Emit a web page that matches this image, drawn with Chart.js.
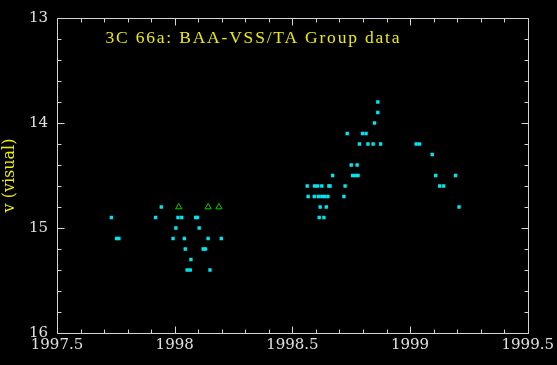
<!DOCTYPE html>
<html>
<head>
<meta charset="utf-8">
<script src="https://cdn.jsdelivr.net/npm/chart.js@4/dist/chart.umd.min.js"></script>
<style>
html,body{margin:0;padding:0;background:#000;}
canvas{display:block;}
</style>
</head>
<body>
<canvas id="c" width="557" height="365"></canvas>
<script>
// Visual estimates (cyan squares)
const visX = [1997.731,1997.753,1997.763,1997.919,1997.943,1997.993,1998.005,1998.014,1998.030,1998.041,1998.045,1998.053,1998.066,1998.069,1998.089,1998.097,1998.104,1998.121,1998.131,1998.142,1998.150,1998.198,
  1998.563,1998.594,1998.607,1998.625,1998.655,1998.660,1998.724,
  1998.567,1998.593,1998.610,1998.625,1998.637,1998.651,1998.719,
  1998.618,1998.644,
  1998.614,1998.634,
  1998.671,1998.756,1998.768,1998.779,
  1998.750,1998.775,
  1998.785,1998.821,1998.843,1998.875,
  1998.733,1998.798,1998.813,
  1998.849,1998.863,1998.863,
  1999.026,1999.040,1999.094,1999.109,1999.193,1999.126,1999.143,1999.208];
const visY = [14.9,15.1,15.1,14.9,14.8,15.1,15.0,14.9,14.9,15.1,15.2,15.4,15.4,15.3,14.9,14.9,15.0,15.2,15.2,15.1,15.4,15.1,
  14.6,14.6,14.6,14.6,14.6,14.6,14.6,
  14.7,14.7,14.7,14.7,14.7,14.7,14.7,
  14.8,14.8,
  14.9,14.9,
  14.5,14.5,14.5,14.5,
  14.4,14.4,
  14.2,14.2,14.2,14.2,
  14.1,14.1,14.1,
  14.0,13.9,13.8,
  14.2,14.2,14.3,14.5,14.5,14.6,14.6,14.8];
// Green triangles
const triX = [1998.017,1998.142,1998.188];
const triY = [14.8,14.8,14.8];
const xTickLabels = [1997.5,1998,1998.5,1999,1999.5];
const yTickLabels = [13,14,15,16];
const titleText = '3C 66a: BAA-VSS/TA Group data';
const yTitle = 'v (visual)';

const toPts = (xs, ys) => xs.map((x, i) => ({x: x, y: ys[i]}));

const bgPlugin = {
  id: 'bg',
  beforeDraw(chart) {
    const c = chart.ctx;
    c.save();
    c.fillStyle = '#000';
    c.fillRect(0, 0, chart.width, chart.height);
    c.restore();
  }
};

const framePlugin = {
  id: 'frame',
  afterDatasetsDraw(chart) {
    const c = chart.ctx, a = chart.chartArea, sx = chart.scales.x, sy = chart.scales.y;
    c.save();
    c.strokeStyle = '#d4d4d4';
    c.lineWidth = 1;
    const L = Math.round(a.left) + 0.5, R = Math.round(a.right) + 0.5;
    const T = Math.round(a.top) + 0.5, B = Math.round(a.bottom) + 0.5;
    c.beginPath();
    c.rect(L, T, R - L, B - T);
    for (let i = 0; i <= 20; i++) {
      const v = 1997.5 + i * 0.1;
      const px = Math.round(sx.getPixelForValue(v)) + 0.5;
      const len = (i % 5 === 0) ? 7 : 4;
      c.moveTo(px, B); c.lineTo(px, B - len);
      c.moveTo(px, T); c.lineTo(px, T + len);
    }
    for (let i = 0; i <= 15; i++) {
      const v = 13 + i * 0.2;
      const py = Math.round(sy.getPixelForValue(v)) + 0.5;
      const len = (i % 5 === 0) ? 7 : 4;
      c.moveTo(L, py); c.lineTo(L + len, py);
      c.moveTo(R, py); c.lineTo(R - len, py);
    }
    c.stroke();
    // title inside plot
    c.fillStyle = '#ecec00';
    c.font = '17.5px "Liberation Serif"';
    c.textBaseline = 'middle';
    c.textAlign = 'left';
    const w0 = c.measureText(titleText).width;
    const spacing = Math.max(0, (294 - w0) / (titleText.length - 1));
    if ('letterSpacing' in c) {
      c.letterSpacing = spacing.toFixed(2) + 'px';
      c.fillText(titleText, 105.5, 38);
    } else {
      let x = 105.5;
      for (const ch of titleText) { c.fillText(ch, x, 38); x += c.measureText(ch).width + spacing; }
    }
    c.restore();
  }
};

new Chart(document.getElementById('c'), {
  type: 'scatter',
  data: {
    datasets: [
      {data: toPts(visX, visY), pointStyle: 'rect', pointRadius: 2.4, backgroundColor: '#00e5ee', borderWidth: 0},
      {data: toPts(triX, triY), pointStyle: 'triangle', pointRadius: 3.6, borderColor: '#00cc00', backgroundColor: 'rgba(0,0,0,0)', borderWidth: 1}
    ]
  },
  options: {
    responsive: false,
    animation: false,
    events: [],
    layout: {padding: {left: 0, right: 29, top: 16, bottom: 0}},
    plugins: {legend: {display: false}, tooltip: {enabled: false}, title: {display: false}},
    scales: {
      x: {
        type: 'linear', min: 1997.5, max: 1999.5,
        grid: {display: false, drawTicks: false}, border: {display: false},
        afterBuildTicks(s) { s.ticks = xTickLabels.map(v => ({value: v})); },
        ticks: {color: '#e0e0e0', font: {family: 'DejaVu Serif', size: 15}, padding: 3, maxRotation: 0, autoSkip: false,
          callback: v => String(v)},
        afterFit(s) { s.height = 32; }
      },
      y: {
        min: 13, max: 16, reverse: true,
        grid: {display: false, drawTicks: false}, border: {display: false},
        afterBuildTicks(s) { s.ticks = yTickLabels.map(v => ({value: v})); },
        ticks: {color: '#e0e0e0', font: {family: 'DejaVu Serif', size: 15}, padding: 9, callback: v => String(v)},
        title: {display: true, text: yTitle, color: '#ecec00', font: {family: 'DejaVu Serif', size: 16}, padding: 0},
        afterFit(s) { s.width = 57; }
      }
    }
  },
  plugins: [bgPlugin, framePlugin]
});
</script>
</body>
</html>
